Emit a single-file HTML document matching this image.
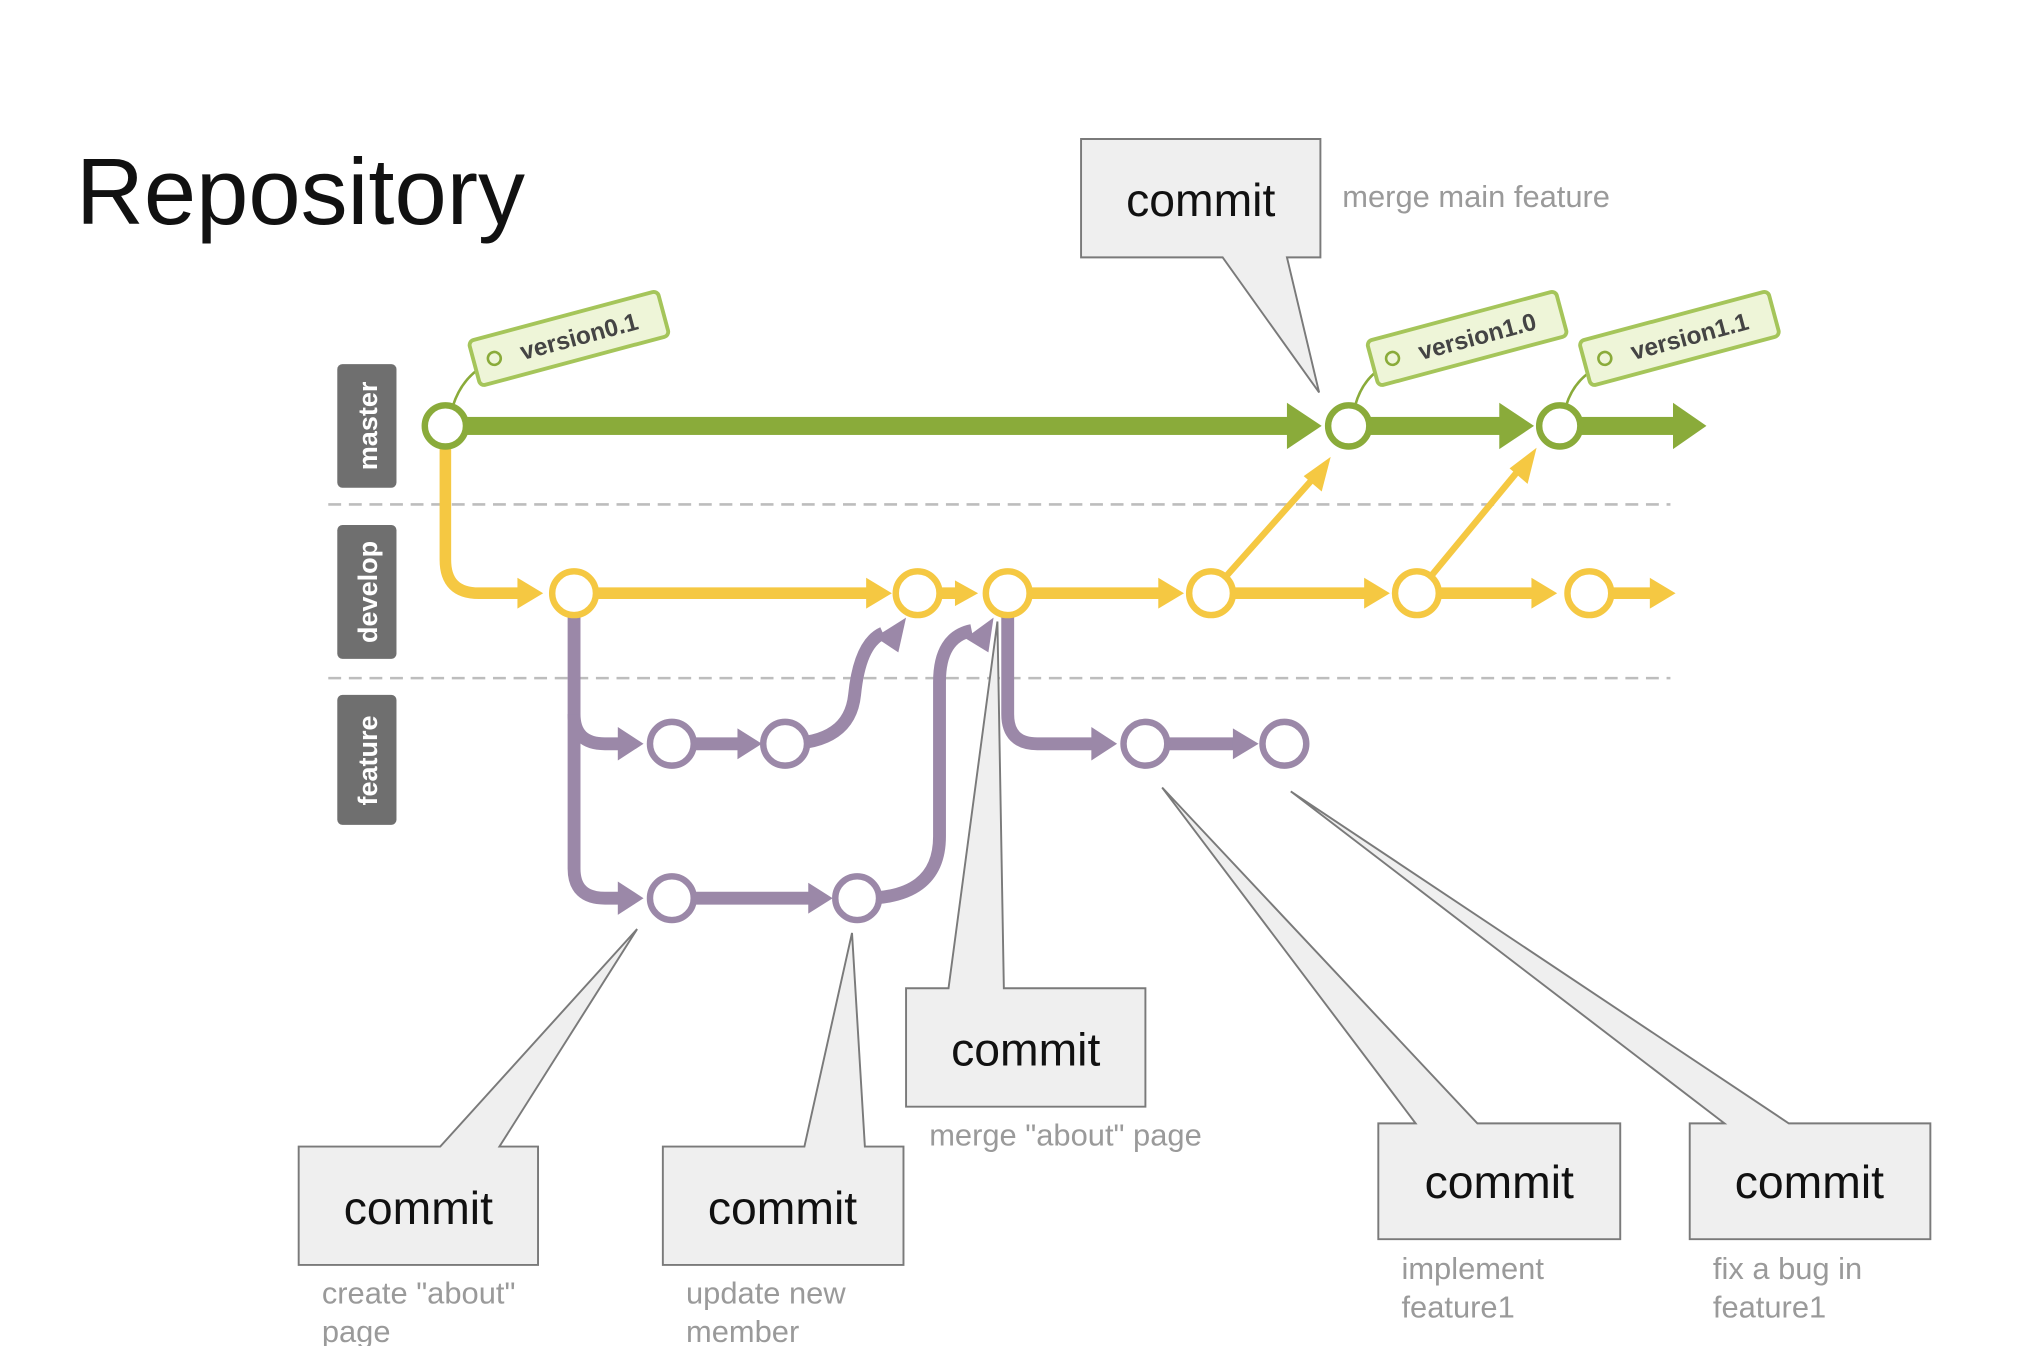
<!DOCTYPE html>
<html><head><meta charset="utf-8"><style>
html,body{margin:0;padding:0;background:#fff;}
svg{display:block;}
text{font-family:"Liberation Sans",Arial,sans-serif;}
</style></head><body>
<svg width="2018" height="1346" viewBox="0 0 1568 1046" xmlns="http://www.w3.org/2000/svg">
<rect width="1568" height="1046" fill="#fff"/>
<text x="59" y="174" font-size="73" fill="#111">Repository</text>

<g fill="#6f6f6f">
<rect x="262" y="283" width="46" height="96" rx="4"/>
<rect x="262" y="408" width="46" height="104" rx="4"/>
<rect x="262" y="540" width="46" height="101" rx="4"/>
</g>
<g fill="#fff" font-size="21" font-weight="bold" text-anchor="middle">
<text transform="translate(293,331) rotate(-90)">master</text>
<text transform="translate(293,460) rotate(-90)">develop</text>
<text transform="translate(293,591) rotate(-90)">feature</text>
</g>
<g stroke="#bdbdbd" stroke-width="2" stroke-dasharray="10,6">
<line x1="255" y1="392" x2="1298" y2="392"/>
<line x1="255" y1="527" x2="1298" y2="527"/>
</g>

<g fill="#8aab3a">
<rect x="346" y="324" width="660" height="14"/>
<path d="M1000,313 L1027,331 L1000,349 Z"/>
<rect x="1048" y="324" width="120" height="14"/>
<path d="M1165,313 L1192,331 L1165,349 Z"/>
<rect x="1212" y="324" width="92" height="14"/>
<path d="M1300,313 L1326,331 L1300,349 Z"/>
</g>

<g fill="none" stroke="#f5c842" stroke-width="9">
<path d="M346,346 L346,435 Q346,461 372,461 L405,461"/>
<line x1="446" y1="461" x2="678" y2="461"/>
<line x1="713" y1="461" x2="745" y2="461"/>
<line x1="783" y1="461" x2="905" y2="461"/>
<line x1="941" y1="461" x2="1065" y2="461"/>
<line x1="1101" y1="461" x2="1195" y2="461"/>
<line x1="1235" y1="461" x2="1285" y2="461"/>
<line x1="941" y1="461" x2="1022" y2="370" stroke-width="5"/>
<line x1="1101" y1="461" x2="1182" y2="363" stroke-width="5"/>
</g>
<g fill="#f5c842">
<path d="M402,449 L422,461 L402,473 Z"/>
<path d="M673,449 L693,461 L673,473 Z"/>
<path d="M742,451 L760,461 L742,471 Z"/>
<path d="M900,449 L920,461 L900,473 Z"/>
<path d="M1060,449 L1080,461 L1060,473 Z"/>
<path d="M1190,449 L1210,461 L1190,473 Z"/>
<path d="M1282,449 L1302,461 L1282,473 Z"/>
<path d="M1034,355 L1027,382 L1013,370 Z"/>
<path d="M1194,348 L1187,376 L1173,364 Z"/>
</g>

<g fill="none" stroke="#9b88a8" stroke-width="10">
<path d="M446,476 L446,675 Q446,698 470,698 L485,698"/>
<path d="M446,555 Q446,578 470,578 L485,578"/>
<line x1="522" y1="578" x2="578" y2="578"/>
<path d="M610,578 Q660,578 664,540 Q668,500 686,492"/>
<line x1="522" y1="698" x2="632" y2="698"/>
<path d="M666,698 Q730,700 730,650 L730,530 Q730,495 755,490"/>
<path d="M783,476 L783,555 Q783,578 806,578 L852,578"/>
<line x1="890" y1="578" x2="962" y2="578"/>
</g>
<g fill="#9b88a8">
<path d="M480,565 L500,578 L480,591 Z"/>
<path d="M573,566 L592,578 L573,590 Z"/>
<path d="M480,685 L500,698 L480,711 Z"/>
<path d="M628,686 L647,698 L628,710 Z"/>
<path d="M848,565 L868,578 L848,591 Z"/>
<path d="M958,566 L978,578 L958,590 Z"/>
<path d="M704,480 L698,507 L680,495 Z"/>
<path d="M772,480 L768,507 L750,496 Z"/>
</g>

<g fill="#fff" stroke-width="5">
<g stroke="#8aab3a"><circle cx="346" cy="331" r="16"/><circle cx="1048" cy="331" r="16"/><circle cx="1212" cy="331" r="16"/></g>
<g stroke="#f5c842"><circle cx="446" cy="461" r="17"/><circle cx="713" cy="461" r="17"/><circle cx="783" cy="461" r="17"/><circle cx="941" cy="461" r="17"/><circle cx="1101" cy="461" r="17"/><circle cx="1235" cy="461" r="17"/></g>
<g stroke="#9b88a8"><circle cx="522" cy="578" r="17"/><circle cx="610" cy="578" r="17"/><circle cx="522" cy="698" r="17"/><circle cx="666" cy="698" r="17"/><circle cx="890" cy="578" r="17"/><circle cx="998" cy="578" r="17"/></g>
</g>

<g fill="none" stroke="#8aab3a" stroke-width="2">
<path d="M352,315 Q360,290 384,280"/>
<path d="M1053,315 Q1060,290 1082,282"/>
<path d="M1217,315 Q1224,292 1248,282"/>
</g>
<g transform="translate(442,263) rotate(-15)">
<rect x="-76" y="-18" width="152" height="36" rx="4" fill="#eef5d8" stroke="#a5c55a" stroke-width="3"/>
<circle cx="-60" cy="0" r="5" fill="none" stroke="#8aab3a" stroke-width="2"/>
<text x="8" y="7" font-size="19" font-weight="bold" fill="#444" text-anchor="middle">version0.1</text>
</g>
<g transform="translate(1140,263) rotate(-15)">
<rect x="-76" y="-18" width="152" height="36" rx="4" fill="#eef5d8" stroke="#a5c55a" stroke-width="3"/>
<circle cx="-60" cy="0" r="5" fill="none" stroke="#8aab3a" stroke-width="2"/>
<text x="8" y="7" font-size="19" font-weight="bold" fill="#444" text-anchor="middle">version1.0</text>
</g>
<g transform="translate(1305,263) rotate(-15)">
<rect x="-76" y="-18" width="152" height="36" rx="4" fill="#eef5d8" stroke="#a5c55a" stroke-width="3"/>
<circle cx="-60" cy="0" r="5" fill="none" stroke="#8aab3a" stroke-width="2"/>
<text x="8" y="7" font-size="19" font-weight="bold" fill="#444" text-anchor="middle">version1.1</text>
</g>

<g fill="#efefef" stroke="#7a7a7a" stroke-width="1.5">
<path d="M840,108 L1026,108 L1026,200 L1000,200 L1025,305 L950,200 L840,200 Z"/>
<path d="M704,768 L737,768 L775,483 L780,768 L890,768 L890,860 L704,860 Z"/>
<path d="M232,891 L342,891 L495,722 L388,891 L418,891 L418,983 L232,983 Z"/>
<path d="M515,891 L625,891 L662,725 L672,891 L702,891 L702,983 L515,983 Z"/>
<path d="M1071,873 L1100,873 L903,612 L1148,873 L1259,873 L1259,963 L1071,963 Z"/>
<path d="M1313,873 L1340,873 L1003,615 L1390,873 L1500,873 L1500,963 L1313,963 Z"/>
</g>
<g font-size="36" fill="#111" text-anchor="middle">
<text x="933" y="168">commit</text>
<text x="797" y="828">commit</text>
<text x="325" y="951">commit</text>
<text x="608" y="951">commit</text>
<text x="1165" y="931">commit</text>
<text x="1406" y="931">commit</text>
</g>
<g font-size="24" fill="#9a9a9a">
<text x="1043" y="161">merge main feature</text>
<text x="722" y="890">merge "about" page</text>
<text x="250" y="1013">create "about"</text>
<text x="250" y="1043">page</text>
<text x="533" y="1013">update new</text>
<text x="533" y="1043">member</text>
<text x="1089" y="994">implement</text>
<text x="1089" y="1024">feature1</text>
<text x="1331" y="994">fix a bug in</text>
<text x="1331" y="1024">feature1</text>
</g>
</svg>
</body></html>
